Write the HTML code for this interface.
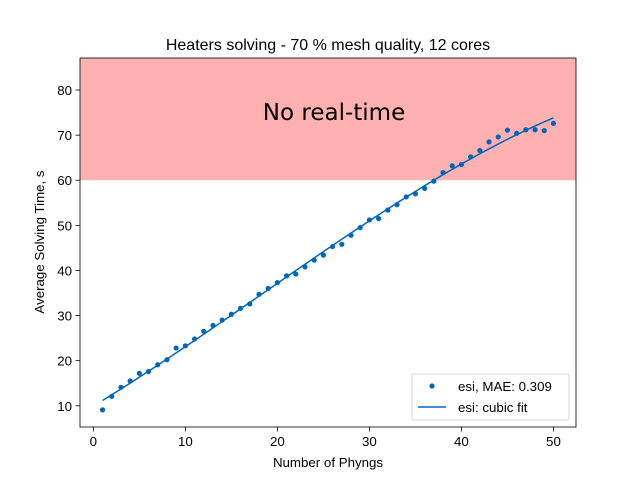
<!DOCTYPE html>
<html><head><meta charset="utf-8"><style>body{margin:0;background:#fff}svg{font-family:"Liberation Sans",sans-serif}</style></head>
<body>
<svg id="c" width="640" height="480" viewBox="0 0 640 480"></svg>
<script>
const xs=[1,2,3,4,5,6,7,8,9,10,11,12,13,14,15,16,17,18,19,20,21,22,23,24,25,26,27,28,29,30,31,32,33,34,35,36,37,38,39,40,41,42,43,44,45,46,47,48,49,50];
const ys=[9.1,12.1,14.1,15.5,17.2,17.6,19.1,20.2,22.8,23.3,24.8,26.5,27.8,29.0,30.3,31.6,32.6,34.7,36.0,37.3,38.8,39.2,40.8,42.3,43.4,45.3,45.8,47.8,49.5,51.2,51.5,53.4,54.6,56.3,57.0,58.2,59.8,61.7,63.2,63.5,65.2,66.6,68.5,69.6,71.1,70.4,71.2,71.2,71.0,72.6];
const xTicks=[0,10,20,30,40,50];
const yTicks=[10,20,30,40,50,60,70,80];
const threshold=60;
const L=80,R=576,T=58,B=427,x0=-1.45,x1=52.45,y0=5.3,y1=87.1;
const X=v=>L+(v-x0)/(x1-x0)*(R-L), Y=v=>B-(v-y0)/(y1-y0)*(B-T);
const s=document.getElementById('c');const NS='http://www.w3.org/2000/svg';
function el(t,a,txt){const e=document.createElementNS(NS,t);for(const k in a)e.setAttribute(k,a[k]);if(txt!==undefined)e.textContent=txt;s.appendChild(e);return e;}
let e;
e=el('rect',{x:L,y:T,width:R-L,height:Y(threshold)-T,fill:'#ffb0b0'});

e=el('text',{x:334,y:120,'font-size':23,'text-anchor':'middle',fill:'#000','font-family':'"DejaVu Sans",sans-serif'},'No real-time');

const n=4,A=[],bv=[];for(let i=0;i<n;i++){A.push(Array(n).fill(0));bv.push(0);}
xs.forEach((x,k)=>{for(let i=0;i<n;i++){bv[i]+=ys[k]*x**i;for(let j=0;j<n;j++)A[i][j]+=x**(i+j);}});
for(let i=0;i<n;i++){for(let r=i+1;r<n;r++){const f=A[r][i]/A[i][i];for(let j=i;j<n;j++)A[r][j]-=f*A[i][j];bv[r]-=f*bv[i];}}
const c=Array(n).fill(0);for(let i=n-1;i>=0;i--){let v=bv[i];for(let j=i+1;j<n;j++)v-=A[i][j]*c[j];c[i]=v/A[i][i];}
let d='';for(let k=0;k<=100;k++){const x=xs[0]+(xs[xs.length-1]-xs[0])*k/100;const y=c[0]+c[1]*x+c[2]*x*x+c[3]*x*x*x;d+=(k?'L':'M')+X(x).toFixed(2)+','+Y(y).toFixed(2);}
e=el('path',{d:d,fill:'none',stroke:'#0066bb','stroke-width':1.5});

xs.forEach((x,i)=>{const p=el('circle',{cx:X(x),cy:Y(ys[i]),r:2.6,fill:'#0066bb'});

});
e=el('rect',{x:L,y:T,width:R-L,height:B-T,fill:'none',stroke:'#000','stroke-width':0.8});

xTicks.forEach(t=>{el('line',{x1:X(t),x2:X(t),y1:B,y2:B+4.5,stroke:'#000','stroke-width':0.8});
const tl=el('text',{x:X(t),y:B+19,'font-size':13.3,'text-anchor':'middle'},t);

});
yTicks.forEach(t=>{el('line',{x1:L-4.5,x2:L,y1:Y(t),y2:Y(t),stroke:'#000','stroke-width':0.8});
const tl=el('text',{x:L-8,y:Y(t)+5,'font-size':13.3,'text-anchor':'end'},t);

});
e=el('text',{x:328,y:50,'font-size':16,'text-anchor':'middle'},'Heaters solving - 70 % mesh quality, 12 cores');

e=el('text',{x:328,y:467,'font-size':13.3,'text-anchor':'middle'},'Number of Phyngs');

e=el('text',{x:0,y:0,'font-size':13.3,'text-anchor':'middle',transform:'translate(44,242) rotate(-90)'},'Average Solving Time, s');

e=el('rect',{x:412,y:374,width:157,height:46,rx:2,fill:'#fff','fill-opacity':0.8,stroke:'#ccc','stroke-width':0.8});

el('circle',{cx:432,cy:386,r:2.6,fill:'#0066bb'});
e=el('text',{x:458,y:391,'font-size':13.3},'esi, MAE: 0.309');

el('line',{x1:418,x2:446,y1:407,y2:407,stroke:'#0066bb','stroke-width':1.5});
e=el('text',{x:458,y:412,'font-size':13.3},'esi: cubic fit');

</script>
</body></html>
